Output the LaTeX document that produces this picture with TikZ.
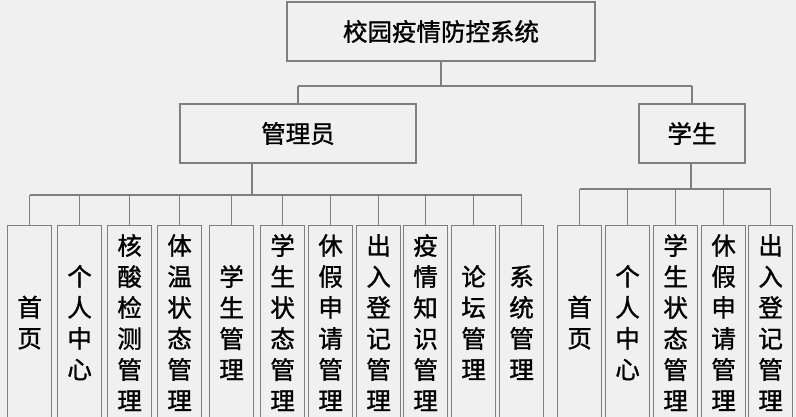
\documentclass[tikz,border=0pt]{standalone}
\usepackage{fontspec}
\newfontfamily\cjk[FakeBold=1.2]{Noto Sans CJK SC}
\definecolor{bg}{HTML}{F0F0F0}
\definecolor{ln}{HTML}{7F7F7F}
\begin{document}
\begin{tikzpicture}[x=1pt,y=-1pt,
  box/.style={draw=ln,line width=1.2pt,fill=bg,inner sep=0pt,font=\cjk\fontsize{24.5}{31}\selectfont},
  leaf/.style={box,minimum width=44pt,minimum height=194pt,anchor=north west,align=center},
  conn/.style={draw=ln,line width=1.2pt}]
\fill[bg] (0,0) rectangle (796,417);
\useasboundingbox (0,0) rectangle (796,417);
\node[box,minimum width=308pt,minimum height=59pt] (root) at (441,31.5) {校园疫情防控系统};
\node[box,minimum width=236pt,minimum height=59pt] (adm) at (298,133.5) {管理员};
\node[box,minimum width=106pt,minimum height=59pt] (stu) at (692,133.5) {学生};
% admin leaves
\node[leaf] (a1) at (7,225) {首\\页};
\node[leaf] (a2) at (57,225) {个\\人\\中\\心};
\node[leaf] (a3) at (107,225) {核\\酸\\检\\测\\管\\理};
\node[leaf] (a4) at (157,225) {体\\温\\状\\态\\管\\理};
\node[leaf] (a5) at (209,225) {学\\生\\管\\理};
\node[leaf] (a6) at (260,225) {学\\生\\状\\态\\管\\理};
\node[leaf] (a7) at (308,225) {休\\假\\申\\请\\管\\理};
\node[leaf] (a8) at (356,225) {出\\入\\登\\记\\管\\理};
\node[leaf] (a9) at (403,225) {疫\\情\\知\\识\\管\\理};
\node[leaf] (a10) at (451,225) {论\\坛\\管\\理};
\node[leaf] (a11) at (499,225) {系\\统\\管\\理};
% student leaves
\node[leaf] (s1) at (557,225) {首\\页};
\node[leaf] (s2) at (605,225) {个\\人\\中\\心};
\node[leaf] (s3) at (653,225) {学\\生\\状\\态\\管\\理};
\node[leaf] (s4) at (701,225) {休\\假\\申\\请\\管\\理};
\node[leaf] (s5) at (748,225) {出\\入\\登\\记\\管\\理};
% top level connectors
\coordinate (rj) at (441,86);
\draw[conn] (root.south) -- (rj);
\draw[conn] (adm.north |- rj) -- (stu.north |- rj);
\draw[conn] (adm.north |- rj) -- (adm.north);
\draw[conn] (stu.north |- rj) -- (stu.north);
% admin connectors
\coordinate (aj) at (252,195);
\draw[conn] (adm.south -| aj) -- (aj);
\draw[conn] (a1.north |- aj) -- (a11.north |- aj);
\foreach \n in {a1,a2,a3,a4,a5,a6,a7,a8,a9,a10,a11}
  \draw[conn] (\n.north |- aj) -- (\n.north);
% student connectors
\coordinate (sj) at (691,189);
\draw[conn] (stu.south -| sj) -- (sj);
\draw[conn] (s1.north |- sj) -- (s5.north |- sj);
\foreach \n in {s1,s2,s3,s4,s5}
  \draw[conn] (\n.north |- sj) -- (\n.north);
\end{tikzpicture}
\end{document}
